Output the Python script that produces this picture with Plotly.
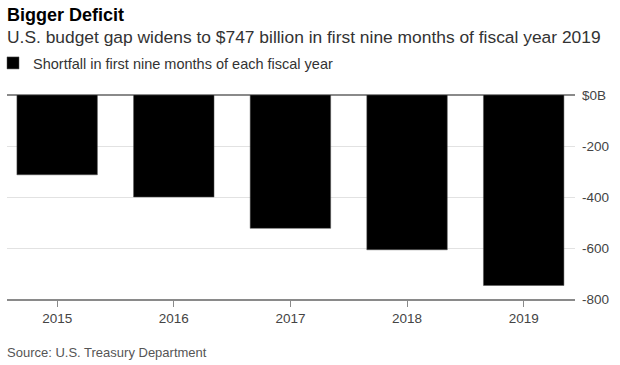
import plotly.graph_objects as go

years = ["2015", "2016", "2017", "2018", "2019"]
deficit = [-313, -400, -523, -607, -747]
ytick_vals = [0, -200, -400, -600, -800]
ytick_text = ["$0B", "-200", "-400", "-600", "-800"]

W, H = 620, 365
ml, mr, mt, mb = 7, 45, 95, 66
pw, ph = W - ml - mr, H - mt - mb

def px_x(p):
    return (p - ml) / pw

def px_y(p):
    return (H - mb - p) / ph

FONT = "Liberation Sans, Arial, Helvetica, sans-serif"

fig = go.Figure()
fig.add_trace(go.Bar(
    x=years, y=deficit,
    marker=dict(color="#000000", line=dict(color="#555555", width=0.5)),
    name="Shortfall in first nine months of each fiscal year",
    showlegend=True,
))

fig.update_layout(
    width=W, height=H,
    margin=dict(l=ml, r=mr, t=mt, b=mb, autoexpand=False),
    paper_bgcolor="white", plot_bgcolor="white",
    font=dict(family=FONT, size=13, color="#444444"),
    bargap=0.31,
    xaxis=dict(
        type="category", range=[-0.43, 4.44],
        showline=True, linecolor="#8a8a8a", linewidth=2,
        ticks="outside", ticklen=6, tickcolor="#8a8a8a", tickwidth=1,
        tickfont=dict(size=13.5, color="#444444"),
        showgrid=False, fixedrange=True,
    ),
    yaxis=dict(
        side="right", range=[-800, 0],
        tickvals=ytick_vals, ticktext=ytick_text,
        showgrid=True, gridcolor="#e2e2e2", gridwidth=1,
        zeroline=True, zerolinecolor="#8a8a8a", zerolinewidth=1.5,
        showline=False, ticks="", ticklabelstandoff=6,
        tickfont=dict(size=13.5, color="#444444"),
        fixedrange=True,
    ),
    legend=dict(
        x=px_x(-7), y=px_y(47), xanchor="left", yanchor="top",
        orientation="h", bgcolor="rgba(0,0,0,0)",
        font=dict(size=14.5, color="#333333"),
    ),
    annotations=[
        dict(text="<b>Bigger Deficit</b>", xref="paper", yref="paper",
             x=px_x(5), y=px_y(15), xanchor="left", yanchor="middle",
             showarrow=False, font=dict(size=18, color="#000000")),
        dict(text="U.S. budget gap widens to $747 billion in first nine months of fiscal year 2019",
             xref="paper", yref="paper",
             x=px_x(5), y=px_y(37), xanchor="left", yanchor="middle",
             showarrow=False, font=dict(size=17.4, color="#333333")),
        dict(text="Source: U.S. Treasury Department", xref="paper", yref="paper",
             x=px_x(5), y=px_y(352), xanchor="left", yanchor="middle",
             showarrow=False, font=dict(size=13, color="#555555")),
    ],
)

fig.write_html("out.html", config={"displayModeBar": False},
               post_script="document.body.style.margin='0';")
